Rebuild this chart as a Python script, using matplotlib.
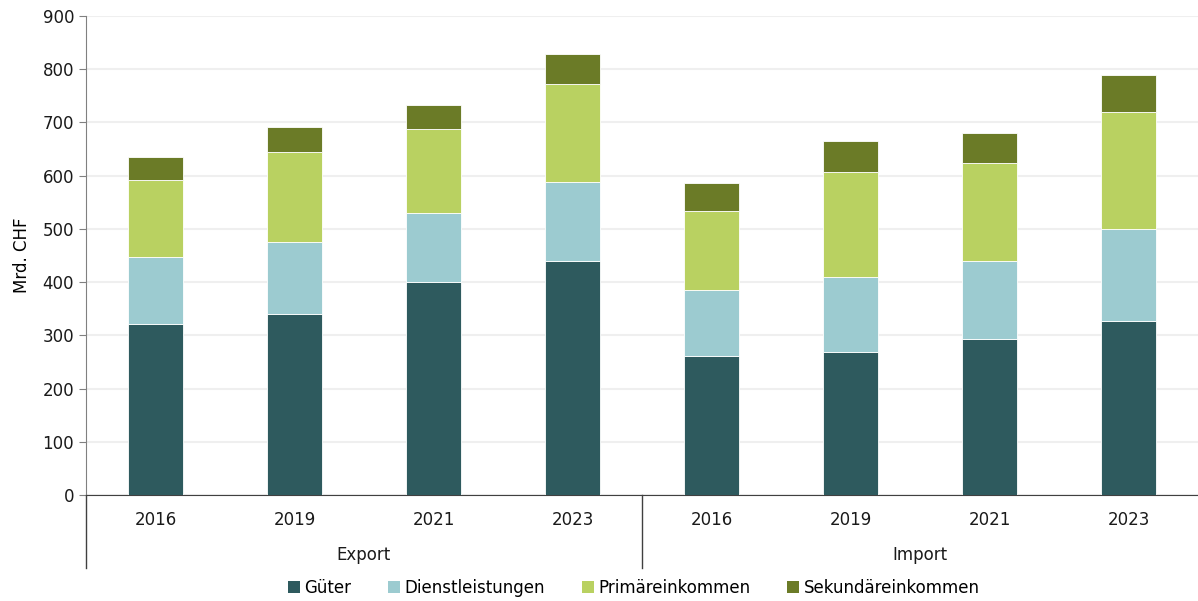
import matplotlib
matplotlib.use("Agg")
import matplotlib.pyplot as plt
from matplotlib.patches import Patch
import numpy as np

plt.rcParams['font.family'] = ['DejaVu Sans']

groups = ["Export", "Import"]
years = ["2016", "2019", "2021", "2023"]
series_names = ["Güter", "Dienstleistungen", "Primäreinkommen", "Sekundäreinkommen"]
gueter = [321, 340, 400, 439, 261, 269, 294, 327]
dienst = [126, 135, 129, 149, 125, 141, 145, 173]
primaer = [145, 170, 158, 185, 148, 197, 184, 219]
sekundaer = [43, 46, 46, 56, 52, 59, 58, 70]
colors = ["#2E5A5E", "#9CCBD0", "#B9D161", "#6B7B27"]

W, H = 1198, 601
fig = plt.figure(figsize=(W / 100, H / 100), dpi=100)
ax = fig.add_axes([86 / W, (H - 495) / H, (1198 - 86) / W, (495 - 16) / H])

n = len(gueter)
x = np.arange(n) + 0.5
bottom = np.zeros(n)
for vals, c in zip([gueter, dienst, primaer, sekundaer], colors):
    ax.bar(x, vals, width=0.4, bottom=bottom, color=c, edgecolor="white", linewidth=0.6, zorder=3)
    bottom += np.array(vals)

FS = 12
ax.set_xlim(0, n)
ax.set_ylim(0, 900)
ax.set_yticks(range(0, 901, 100))
ax.yaxis.grid(True, color="#EFEFEF", linewidth=1.5, zorder=0)
ax.set_axisbelow(True)
ax.tick_params(axis="y", labelsize=FS, length=5, color="#808080", labelcolor="#1a1a1a")
ax.set_xticks([])
for s in ["top", "right"]:
    ax.spines[s].set_visible(False)
ax.spines["left"].set_color("#808080")
ax.spines["bottom"].set_color("#404040")
ax.set_ylabel("Mrd. CHF", fontsize=FS, labelpad=8)

trans = ax.get_xaxis_transform()
for i, yr in enumerate(years * len(groups)):
    ax.text(x[i], -0.052, yr, transform=trans, ha="center", va="center", fontsize=FS, color="#1a1a1a")
for g, name in enumerate(groups):
    ax.text(g * 4 + 2, -0.126, name, transform=trans, ha="center", va="center", fontsize=FS, color="#1a1a1a")
for xs in [0, 4]:
    ax.plot([xs, xs], [0, -0.152], transform=trans, color="#404040", linewidth=1, clip_on=False)

handles = [Patch(facecolor=c, edgecolor="none") for c in colors]
fig.legend(handles, series_names, loc="center", bbox_to_anchor=(634 / W, 1 - 588 / H), ncol=4,
           frameon=False, fontsize=FS, handlelength=0.7, handleheight=0.7, handletextpad=0.3,
           columnspacing=2.2)

fig.savefig("out.png", dpi=100)
